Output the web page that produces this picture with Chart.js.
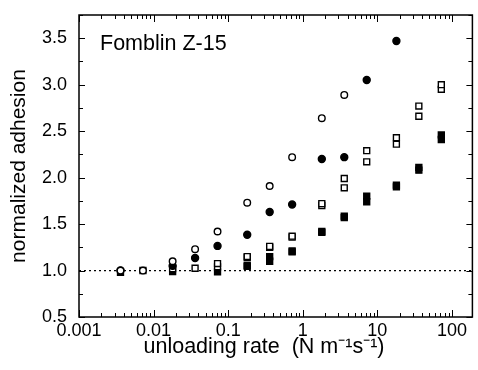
<!DOCTYPE html>
<html>
<head>
<meta charset="utf-8">
<script src="https://cdn.jsdelivr.net/npm/chart.js@4/dist/chart.umd.min.js"></script>
<style>
  html, body { margin: 0; padding: 0; background: #fff; }
  #wrap { width: 478px; height: 370px; }
</style>
</head>
<body>
<div id="wrap"><canvas id="adhesionChart" width="478" height="370"></canvas></div>
<script>
// unloading rates (N m^-1 s^-1)
const rates = [0.0036, 0.0072, 0.018, 0.036, 0.072, 0.18, 0.36, 0.72, 1.8, 3.6, 7.2, 18, 36, 72];

// normalized adhesion per series (null = no point)
const openCircles   = [1.0, 1.0, 1.10, 1.23, 1.42, 1.73, 1.91, 2.22, 2.64, 2.89, null, null, null, null];
const filledCircles = [1.0, null, 1.05, 1.135, 1.265, 1.385, 1.63, 1.71, 2.20, 2.22, 3.05, 3.47, null, null];
const openSquaresA  = [null, 1.0, 1.02, 1.025, 1.075, 1.15, 1.26, 1.37, 1.72, 1.99, 2.29, 2.43, 2.77, 3.0];
const openSquaresB  = [null, null, null, null, 1.04, 1.14, 1.25, 1.36, 1.70, 1.89, 2.17, 2.36, 2.66, 2.95];
const filledSquaresA = [0.98, null, 0.99, null, 0.985, 1.055, 1.15, 1.21, 1.42, 1.585, 1.80, 1.92, 2.11, 2.46];
const filledSquaresB = [null, null, null, null, null, 1.045, 1.10, 1.20, 1.41, 1.57, 1.74, 1.90, 2.08, 2.41];

// reference level and axis ranges
const refLevel = 1.0;
const xRange = [0.001, 188];
const yRange = [0.5, 3.75];
const xLabels = [0.001, 0.01, 0.1, 1, 10, 100];

const FONT = '"Liberation Sans", Arial, sans-serif';

const toPoints = (values) => rates
    .map((r, i) => ({ x: r, y: values[i] }))
    .filter(p => p.y !== null);

const markerSet = (values, style, filled, radius) => ({
    type: 'scatter',
    data: toPoints(values),
    pointStyle: style,
    pointRadius: radius,
    pointHoverRadius: radius,
    pointBackgroundColor: filled ? '#000' : '#fff',
    pointBorderColor: '#000',
    pointBorderWidth: 1.4,
    showLine: false
});

const isPow10 = (v) => {
    const l = Math.log10(v);
    return Math.abs(l - Math.round(l)) < 1e-6;
};

// frame, inward tick marks, x title and the sample label
const framePlugin = {
    id: 'frame',
    afterDatasetsDraw(chart) {
        const { ctx, chartArea: a, scales } = chart;
        ctx.save();
        ctx.strokeStyle = '#000';
        ctx.lineWidth = 1;

        ctx.beginPath();
        scales.x.ticks.forEach(t => {
            const l = Math.log10(t.value);
            const m = t.value / Math.pow(10, Math.floor(l + 1e-9));
            if (Math.abs(m - Math.round(m)) > 1e-6) return;
            const px = Math.round(scales.x.getPixelForValue(t.value)) + 0.5;
            const len = isPow10(t.value) ? 7 : 4;
            ctx.moveTo(px, a.bottom); ctx.lineTo(px, a.bottom - len);
            ctx.moveTo(px, a.top); ctx.lineTo(px, a.top + len);
        });
        scales.y.ticks.forEach(t => {
            const py = Math.round(scales.y.getPixelForValue(t.value)) + 0.5;
            const len = Math.abs(t.value * 2 - Math.round(t.value * 2)) < 1e-6 ? 6 : 4;
            ctx.moveTo(a.left, py); ctx.lineTo(a.left + len, py);
            ctx.moveTo(a.right, py); ctx.lineTo(a.right - len, py);
        });
        ctx.stroke();

        ctx.lineWidth = 1.5;
        ctx.strokeRect(a.left, a.top, a.right - a.left, a.bottom - a.top);

        ctx.fillStyle = '#000';
        ctx.textBaseline = 'alphabetic';
        ctx.font = '21.5px ' + FONT;
        ctx.textAlign = 'left';
        ctx.fillText('Fomblin Z-15', 100, 50);

        ctx.textAlign = 'center';
        ctx.fillText('unloading rate  (N m\u207B\u00B9s\u207B\u00B9)', 264, 353);
        ctx.restore();
    }
};

new Chart(document.getElementById('adhesionChart'), {
    data: {
        datasets: [
            markerSet(openCircles, 'circle', false, 3.3),
            markerSet(filledCircles, 'circle', true, 3.5),
            markerSet(openSquaresA, 'rect', false, 4.2),
            markerSet(openSquaresB, 'rect', false, 4.2),
            markerSet(filledSquaresA, 'rect', true, 4.2),
            markerSet(filledSquaresB, 'rect', true, 4.2),
            {
                type: 'line',
                data: [{ x: xRange[0], y: refLevel }, { x: xRange[1], y: refLevel }],
                borderColor: '#000',
                borderWidth: 1.3,
                borderDash: [2, 3],
                pointRadius: 0
            }
        ]
    },
    options: {
        responsive: false,
        animation: false,
        layout: { padding: { top: 15, right: 1, left: 0, bottom: 0 } },
        plugins: {
            legend: { display: false },
            tooltip: { enabled: false }
        },
        scales: {
            x: {
                type: 'logarithmic',
                min: xRange[0],
                max: xRange[1],
                grid: { display: false, drawTicks: false },
                border: { display: false },
                afterFit: (scale) => { scale.height = 53; scale.paddingRight = 0; },
                ticks: {
                    color: '#000',
                    font: { family: FONT, size: 18 },
                    padding: 3,
                    autoSkip: false,
                    maxRotation: 0,
                    callback: (v) => xLabels.some(l => Math.abs(l - v) / l < 1e-6) ? String(v) : ''
                }
            },
            y: {
                min: yRange[0],
                max: yRange[1],
                grid: { display: false, drawTicks: false },
                border: { display: false },
                afterFit: (scale) => {
                    scale.width = 79;
                    scale.paddingTop = 0;
                    scale.paddingBottom = 0;
                },
                ticks: {
                    stepSize: 0.25,
                    color: '#000',
                    font: { family: FONT, size: 18 },
                    padding: 12,
                    autoSkip: false,
                    callback: (v) => Math.abs(v * 2 - Math.round(v * 2)) < 1e-6 ? v.toFixed(1) : ''
                },
                title: {
                    display: true,
                    text: 'normalized adhesion',
                    color: '#000',
                    font: { family: FONT, size: 21 },
                    padding: { top: 7, bottom: 0 }
                }
            }
        }
    },
    plugins: [framePlugin]
});
</script>
</body>
</html>
